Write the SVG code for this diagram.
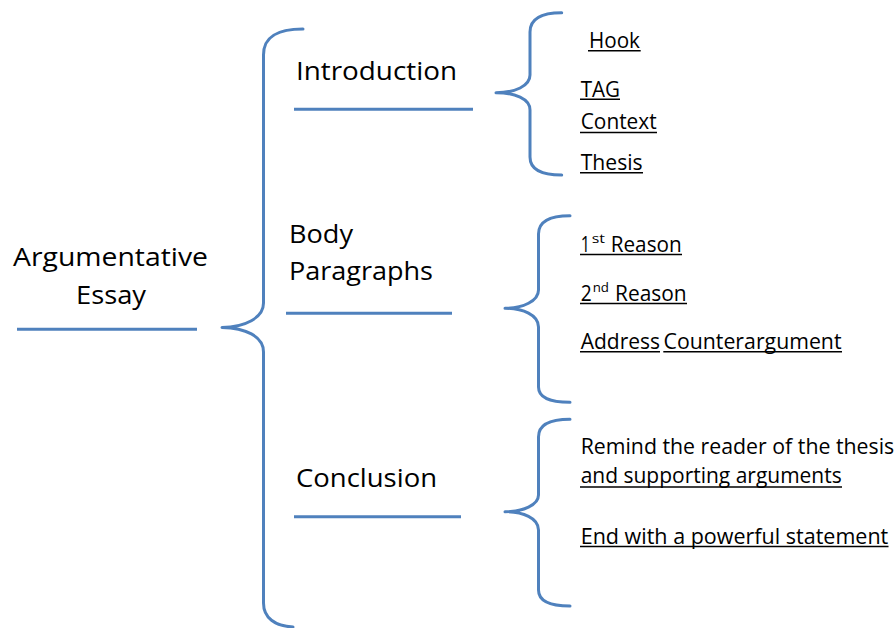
<svg xmlns="http://www.w3.org/2000/svg" width="896" height="628" viewBox="0 0 896 628">
<style>
.bg{fill:#ffffff}
.br{fill:none;stroke:#4F81BD;stroke-width:3;stroke-linecap:round;stroke-linejoin:round}
.hl{stroke:#4F81BD;stroke-width:3}
.big{font-family:"Open Sans","Noto Sans","Liberation Sans",sans-serif;font-size:26px;fill:#000}
.sm{font-family:"Open Sans","Noto Sans","Liberation Sans",sans-serif;font-size:21px;fill:#000}
.sup{font-family:"Open Sans","Noto Sans","Liberation Sans",sans-serif;font-size:13px;fill:#000}
.ul{stroke:#000;stroke-width:1.5}
</style>
<rect class="bg" x="0" y="0" width="896" height="628"/>
<g id="connectors">
<path class="br" d="M303 29 C280 29 263.5 35 263.5 55 L263.5 303 C263.5 318 245 327 222 327.5 C245 328 263.5 336 263.5 352 L263.5 603 C263.5 618 275 626 293 627"/>
<path class="br" d="M561.7 12.7 C540 12.7 530 19 530 32 L530 75 C530 86 515 92.7 496 92.7 C515 92.7 530 99 530 110 L530 157 C530 169 540 175 561.7 175"/>
<path class="br" d="M570 215.7 C549 215.7 538.5 222 538.5 234 L538.5 290 C538.5 301 523 308.3 505 308.3 C523 308.3 538.5 315 538.5 327 L538.5 387 C538.5 397 549 402.3 570 402.3"/>
<path class="br" d="M570 419.3 C549 419.3 538.5 425 538.5 437 L538.5 495 C538.5 505 523 511.7 505 511.7 C523 511.7 538.5 518 538.5 530 L538.5 590 C538.5 600 549 606 570 606"/>
</g>
<g id="argumentative-essay">
<text class="big" x="13" y="266" textLength="195" lengthAdjust="spacingAndGlyphs">Argumentative</text>
<text class="big" x="76" y="304" textLength="70" lengthAdjust="spacingAndGlyphs">Essay</text>
<line class="hl" x1="17" y1="329.3" x2="197" y2="329.3"/>
</g>
<g id="introduction">
<text class="big" x="296" y="80" textLength="161" lengthAdjust="spacingAndGlyphs">Introduction</text>
<line class="hl" x1="294" y1="109.3" x2="473" y2="109.3"/>
</g>
<g id="body-paragraphs">
<text class="big" x="289" y="243" textLength="64" lengthAdjust="spacingAndGlyphs">Body</text>
<text class="big" x="289" y="280" textLength="144" lengthAdjust="spacingAndGlyphs">Paragraphs</text>
<line class="hl" x1="286" y1="313.3" x2="452" y2="313.3"/>
</g>
<g id="conclusion">
<text class="big" x="296" y="486.7" textLength="141" lengthAdjust="spacingAndGlyphs">Conclusion</text>
<line class="hl" x1="294" y1="516.7" x2="461" y2="516.7"/>
</g>
<g id="hook">
<text class="sm" x="589" y="48.3" textLength="51" lengthAdjust="spacingAndGlyphs">Hook</text>
<line class="ul" x1="588" y1="50.8" x2="640.7" y2="50.8"/>
</g>
<g id="tag">
<text class="sm" x="580.7" y="96.7" textLength="39.3" lengthAdjust="spacingAndGlyphs">TAG</text>
<line class="ul" x1="580" y1="99.2" x2="620" y2="99.2"/>
</g>
<g id="context">
<text class="sm" x="580.7" y="129.3" textLength="76" lengthAdjust="spacingAndGlyphs">Context</text>
<line class="ul" x1="580" y1="132.5" x2="657" y2="132.5"/>
</g>
<g id="thesis">
<text class="sm" x="580.7" y="170" textLength="62" lengthAdjust="spacingAndGlyphs">Thesis</text>
<line class="ul" x1="580" y1="172.7" x2="643" y2="172.7"/>
</g>
<g id="reason-1">
<text class="sm" x="580.7" y="251.7" textLength="9.3" lengthAdjust="spacingAndGlyphs">1</text>
<text class="sup" x="591.7" y="243" textLength="13.3" lengthAdjust="spacingAndGlyphs">st</text>
<text class="sm" x="610.7" y="251.7" textLength="71" lengthAdjust="spacingAndGlyphs">Reason</text>
<line class="ul" x1="580" y1="254.5" x2="682" y2="254.5"/>
</g>
<g id="reason-2">
<text class="sm" x="580.7" y="300.7" textLength="11" lengthAdjust="spacingAndGlyphs">2</text>
<text class="sup" x="592.7" y="292" textLength="16.3" lengthAdjust="spacingAndGlyphs">nd</text>
<text class="sm" x="615" y="300.7" textLength="71.7" lengthAdjust="spacingAndGlyphs">Reason</text>
<line class="ul" x1="580" y1="303.5" x2="687" y2="303.5"/>
</g>
<g id="counterargument">
<text class="sm" x="580.7" y="349" textLength="79.3" lengthAdjust="spacingAndGlyphs">Address</text>
<line class="ul" x1="580" y1="351.7" x2="660" y2="351.7"/>
<text class="sm" x="663.5" y="349" textLength="178" lengthAdjust="spacingAndGlyphs">Counterargument</text>
<line class="ul" x1="663.3" y1="351.7" x2="842" y2="351.7"/>
</g>
<g id="remind">
<text class="sm" x="580.7" y="454" textLength="313.5" lengthAdjust="spacingAndGlyphs">Remind the reader of the thesis</text>
<text class="sm" x="580.7" y="483.3" textLength="261" lengthAdjust="spacingAndGlyphs">and supporting arguments</text>
<line class="ul" x1="580" y1="487" x2="842" y2="487"/>
</g>
<g id="end-statement">
<text class="sm" x="580.7" y="544.3" textLength="307.6" lengthAdjust="spacingAndGlyphs">End with a powerful statement</text>
<line class="ul" x1="580" y1="546.5" x2="888.5" y2="546.5"/>
</g>
</svg>
